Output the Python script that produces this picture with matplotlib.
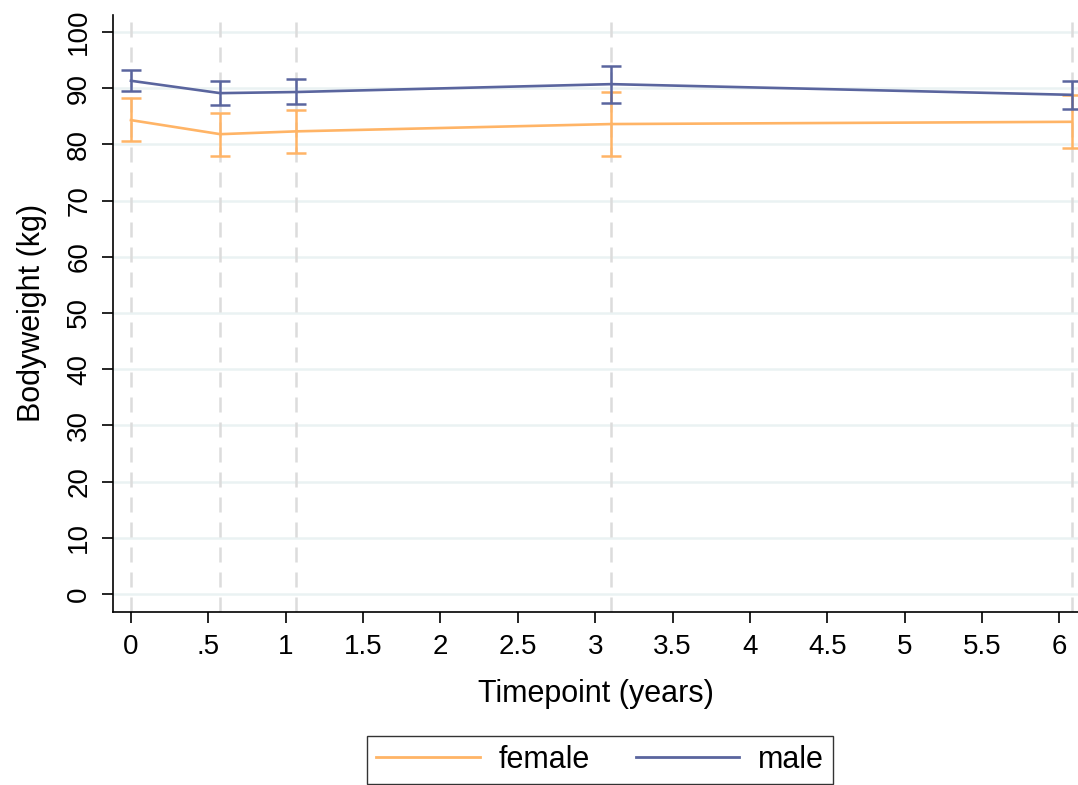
import matplotlib
matplotlib.use("Agg")
import matplotlib.pyplot as plt
from matplotlib.lines import Line2D

plt.rcParams['font.family'] = ['Liberation Sans', 'DejaVu Sans']

timepoints = [0.0, 0.577, 1.067, 3.105, 6.078]
female_mean = [84.3, 81.8, 82.3, 83.6, 84.0]
female_lo = [80.6, 77.9, 78.4, 78.0, 79.4]
female_hi = [88.2, 85.6, 86.1, 89.3, 88.7]
male_mean = [91.3, 89.1, 89.3, 90.7, 88.8]
male_lo = [89.5, 87.0, 87.1, 87.4, 86.3]
male_hi = [93.2, 91.2, 91.6, 94.0, 91.3]

x_ticks = [0, 0.5, 1, 1.5, 2, 2.5, 3, 3.5, 4, 4.5, 5, 5.5, 6]
x_tick_labels = ["0", ".5", "1", "1.5", "2", "2.5", "3", "3.5", "4", "4.5", "5", "5.5", "6"]
y_ticks = [0, 10, 20, 30, 40, 50, 60, 70, 80, 90, 100]

female_color = '#ffb466'
male_color = '#5a659e'

fig = plt.figure(figsize=(10.78, 7.85), dpi=100)
ax = fig.add_axes([113/1078, 1-611.7/785, (1078-113)/1078, (611.7-15)/785])

for yt in y_ticks:
    ax.axhline(yt, color='#eaf2f3', lw=1.8, zorder=0)
for t in timepoints:
    ax.axvline(t, color='#dcdcdc', lw=1.8, ls=(0, (6, 4)), zorder=0.5)

def draw(mean, lo, hi, color):
    ax.plot(timepoints, mean, color=color, lw=1.9, zorder=2)
    yerr = [[m - l for m, l in zip(mean, lo)], [h - m for m, h in zip(mean, hi)]]
    ax.errorbar(timepoints, mean, yerr=yerr, fmt='none', ecolor=color,
                elinewidth=1.8, capsize=7, capthick=1.8, zorder=2)

draw(female_mean, female_lo, female_hi, female_color)
draw(male_mean, male_lo, male_hi, male_color)

ax.set_xlim(-0.116, 6.12)
ax.set_ylim(-3.15, 103.0)
ax.set_xticks(x_ticks)
ax.set_xticklabels(x_tick_labels)
ax.set_yticks(y_ticks)
ax.set_yticklabels([str(v) for v in y_ticks], rotation=90, va='center')
ax.tick_params(axis='both', direction='out', length=8, width=1.2, labelsize=20)
ax.tick_params(axis='x', pad=8)
ax.tick_params(axis='y', pad=7)
for s in ['top', 'right']:
    ax.spines[s].set_visible(False)
for s in ['left', 'bottom']:
    ax.spines[s].set_linewidth(1.2)

ax.set_xlabel('Timepoint (years)', fontsize=22, labelpad=14)
ax.set_ylabel('Bodyweight (kg)', fontsize=22, labelpad=14)

handles = [Line2D([0], [0], color=female_color, lw=2),
           Line2D([0], [0], color=male_color, lw=2)]
leg = fig.legend(handles, ['female', 'male'], loc='lower center',
                 bbox_to_anchor=(600/1078, 1/785), ncol=2, fontsize=22,
                 frameon=True, fancybox=False, edgecolor='black',
                 handlelength=3.4, handletextpad=0.6, columnspacing=1.5,
                 borderpad=0.3, borderaxespad=0)
leg.get_frame().set_linewidth(1.0)

fig.savefig('out.png', dpi=100)
